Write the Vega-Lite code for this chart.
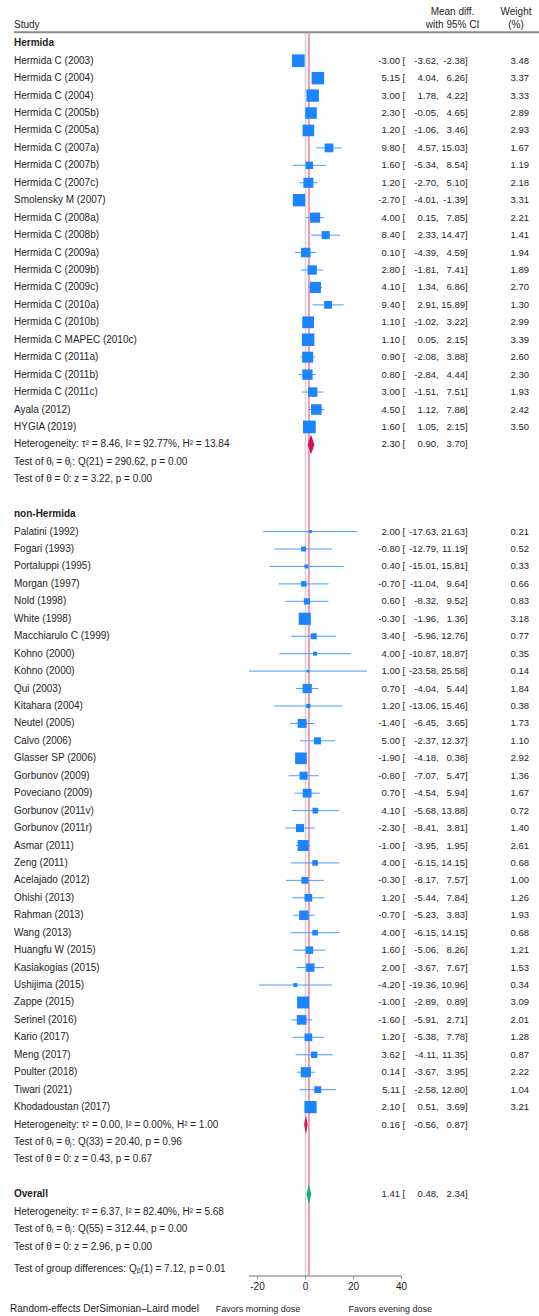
{
  "$schema": "https://vega.github.io/schema/vega-lite/v6.json",
  "width": 539,
  "height": 1316,
  "padding": 0,
  "autosize": {"type": "none"},
  "background": "white",
  "config": {
    "view": {"stroke": null},
    "font": "Liberation Sans",
    "text": {"font": "Liberation Sans", "fontSize": 10, "color": "#1e1e1e", "baseline": "middle"},
    "locale": {"number": {"decimal": ".", "thousands": ",", "grouping": [3], "currency": ["$", ""], "minus": "-"}}
  },
  "datasets": {
    "rows": [
      {"type": "study", "study": "Hermida C (2003)", "row": 1, "est": -3.00, "lo": -3.62, "hi": -2.38, "weight": 3.48},
      {"type": "study", "study": "Hermida C (2004)", "row": 2, "est": 5.15, "lo": 4.04, "hi": 6.26, "weight": 3.37},
      {"type": "study", "study": "Hermida C (2004)", "row": 3, "est": 3.00, "lo": 1.78, "hi": 4.22, "weight": 3.33},
      {"type": "study", "study": "Hermida C (2005b)", "row": 4, "est": 2.30, "lo": -0.05, "hi": 4.65, "weight": 2.89},
      {"type": "study", "study": "Hermida C (2005a)", "row": 5, "est": 1.20, "lo": -1.06, "hi": 3.46, "weight": 2.93},
      {"type": "study", "study": "Hermida C (2007a)", "row": 6, "est": 9.80, "lo": 4.57, "hi": 15.03, "weight": 1.67},
      {"type": "study", "study": "Hermida C (2007b)", "row": 7, "est": 1.60, "lo": -5.34, "hi": 8.54, "weight": 1.19},
      {"type": "study", "study": "Hermida C (2007c)", "row": 8, "est": 1.20, "lo": -2.70, "hi": 5.10, "weight": 2.18},
      {"type": "study", "study": "Smolensky M (2007)", "row": 9, "est": -2.70, "lo": -4.01, "hi": -1.39, "weight": 3.31},
      {"type": "study", "study": "Hermida C (2008a)", "row": 10, "est": 4.00, "lo": 0.15, "hi": 7.85, "weight": 2.21},
      {"type": "study", "study": "Hermida C (2008b)", "row": 11, "est": 8.40, "lo": 2.33, "hi": 14.47, "weight": 1.41},
      {"type": "study", "study": "Hermida C (2009a)", "row": 12, "est": 0.10, "lo": -4.39, "hi": 4.59, "weight": 1.94},
      {"type": "study", "study": "Hermida C (2009b)", "row": 13, "est": 2.80, "lo": -1.81, "hi": 7.41, "weight": 1.89},
      {"type": "study", "study": "Hermida C (2009c)", "row": 14, "est": 4.10, "lo": 1.34, "hi": 6.86, "weight": 2.70},
      {"type": "study", "study": "Hermida C (2010a)", "row": 15, "est": 9.40, "lo": 2.91, "hi": 15.89, "weight": 1.30},
      {"type": "study", "study": "Hermida C (2010b)", "row": 16, "est": 1.10, "lo": -1.02, "hi": 3.22, "weight": 2.99},
      {"type": "study", "study": "Hermida C MAPEC (2010c)", "row": 17, "est": 1.10, "lo": 0.05, "hi": 2.15, "weight": 3.39},
      {"type": "study", "study": "Hermida C (2011a)", "row": 18, "est": 0.90, "lo": -2.08, "hi": 3.88, "weight": 2.60},
      {"type": "study", "study": "Hermida C (2011b)", "row": 19, "est": 0.80, "lo": -2.84, "hi": 4.44, "weight": 2.30},
      {"type": "study", "study": "Hermida C (2011c)", "row": 20, "est": 3.00, "lo": -1.51, "hi": 7.51, "weight": 1.93},
      {"type": "study", "study": "Ayala (2012)", "row": 21, "est": 4.50, "lo": 1.12, "hi": 7.88, "weight": 2.42},
      {"type": "study", "study": "HYGIA (2019)", "row": 22, "est": 1.60, "lo": 1.05, "hi": 2.15, "weight": 3.50},
      {"type": "summary", "group": "Hermida", "row": 23, "est": 2.30, "lo": 0.90, "hi": 3.70},
      {"type": "study", "study": "Palatini (1992)", "row": 28, "est": 2.00, "lo": -17.63, "hi": 21.63, "weight": 0.21},
      {"type": "study", "study": "Fogari (1993)", "row": 29, "est": -0.80, "lo": -12.79, "hi": 11.19, "weight": 0.52},
      {"type": "study", "study": "Portaluppi (1995)", "row": 30, "est": 0.40, "lo": -15.01, "hi": 15.81, "weight": 0.33},
      {"type": "study", "study": "Morgan (1997)", "row": 31, "est": -0.70, "lo": -11.04, "hi": 9.64, "weight": 0.66},
      {"type": "study", "study": "Nold (1998)", "row": 32, "est": 0.60, "lo": -8.32, "hi": 9.52, "weight": 0.83},
      {"type": "study", "study": "White (1998)", "row": 33, "est": -0.30, "lo": -1.96, "hi": 1.36, "weight": 3.18},
      {"type": "study", "study": "Macchiarulo C (1999)", "row": 34, "est": 3.40, "lo": -5.96, "hi": 12.76, "weight": 0.77},
      {"type": "study", "study": "Kohno (2000)", "row": 35, "est": 4.00, "lo": -10.87, "hi": 18.87, "weight": 0.35},
      {"type": "study", "study": "Kohno (2000)", "row": 36, "est": 1.00, "lo": -23.58, "hi": 25.58, "weight": 0.14},
      {"type": "study", "study": "Qui (2003)", "row": 37, "est": 0.70, "lo": -4.04, "hi": 5.44, "weight": 1.84},
      {"type": "study", "study": "Kitahara (2004)", "row": 38, "est": 1.20, "lo": -13.06, "hi": 15.46, "weight": 0.38},
      {"type": "study", "study": "Neutel (2005)", "row": 39, "est": -1.40, "lo": -6.45, "hi": 3.65, "weight": 1.73},
      {"type": "study", "study": "Calvo (2006)", "row": 40, "est": 5.00, "lo": -2.37, "hi": 12.37, "weight": 1.10},
      {"type": "study", "study": "Glasser SP (2006)", "row": 41, "est": -1.90, "lo": -4.18, "hi": 0.38, "weight": 2.92},
      {"type": "study", "study": "Gorbunov (2009)", "row": 42, "est": -0.80, "lo": -7.07, "hi": 5.47, "weight": 1.36},
      {"type": "study", "study": "Poveciano (2009)", "row": 43, "est": 0.70, "lo": -4.54, "hi": 5.94, "weight": 1.67},
      {"type": "study", "study": "Gorbunov (2011v)", "row": 44, "est": 4.10, "lo": -5.68, "hi": 13.88, "weight": 0.72},
      {"type": "study", "study": "Gorbunov (2011r)", "row": 45, "est": -2.30, "lo": -8.41, "hi": 3.81, "weight": 1.40},
      {"type": "study", "study": "Asmar (2011)", "row": 46, "est": -1.00, "lo": -3.95, "hi": 1.95, "weight": 2.61},
      {"type": "study", "study": "Zeng (2011)", "row": 47, "est": 4.00, "lo": -6.15, "hi": 14.15, "weight": 0.68},
      {"type": "study", "study": "Acelajado (2012)", "row": 48, "est": -0.30, "lo": -8.17, "hi": 7.57, "weight": 1.00},
      {"type": "study", "study": "Ohishi (2013)", "row": 49, "est": 1.20, "lo": -5.44, "hi": 7.84, "weight": 1.26},
      {"type": "study", "study": "Rahman (2013)", "row": 50, "est": -0.70, "lo": -5.23, "hi": 3.83, "weight": 1.93},
      {"type": "study", "study": "Wang (2013)", "row": 51, "est": 4.00, "lo": -6.15, "hi": 14.15, "weight": 0.68},
      {"type": "study", "study": "Huangfu W (2015)", "row": 52, "est": 1.60, "lo": -5.06, "hi": 8.26, "weight": 1.21},
      {"type": "study", "study": "Kasiakogias (2015)", "row": 53, "est": 2.00, "lo": -3.67, "hi": 7.67, "weight": 1.53},
      {"type": "study", "study": "Ushijima (2015)", "row": 54, "est": -4.20, "lo": -19.36, "hi": 10.96, "weight": 0.34},
      {"type": "study", "study": "Zappe (2015)", "row": 55, "est": -1.00, "lo": -2.89, "hi": 0.89, "weight": 3.09},
      {"type": "study", "study": "Serinel (2016)", "row": 56, "est": -1.60, "lo": -5.91, "hi": 2.71, "weight": 2.01},
      {"type": "study", "study": "Kario (2017)", "row": 57, "est": 1.20, "lo": -5.38, "hi": 7.78, "weight": 1.28},
      {"type": "study", "study": "Meng (2017)", "row": 58, "est": 3.62, "lo": -4.11, "hi": 11.35, "weight": 0.87},
      {"type": "study", "study": "Poulter (2018)", "row": 59, "est": 0.14, "lo": -3.67, "hi": 3.95, "weight": 2.22},
      {"type": "study", "study": "Tiwari (2021)", "row": 60, "est": 5.11, "lo": -2.58, "hi": 12.80, "weight": 1.04},
      {"type": "study", "study": "Khodadoustan (2017)", "row": 61, "est": 2.10, "lo": 0.51, "hi": 3.69, "weight": 3.21},
      {"type": "summary", "group": "non-Hermida", "row": 62, "est": 0.16, "lo": -0.56, "hi": 0.87},
      {"type": "summary", "group": "Overall", "row": 66, "est": 1.41, "lo": 0.48, "hi": 2.34}
    ],
    "labels": [
      {"row": 0, "text": "Hermida", "kind": "group"},
      {"row": 23, "text": "Heterogeneity: τ² = 8.46, I² = 92.77%, H² = 13.84", "kind": "stat"},
      {"row": 24, "text": "Test of θᵢ = θⱼ: Q(21) = 290.62, p = 0.00", "kind": "stat"},
      {"row": 25, "text": "Test of θ = 0: z = 3.22, p = 0.00", "kind": "stat"},
      {"row": 27, "text": "non-Hermida", "kind": "group"},
      {"row": 62, "text": "Heterogeneity: τ² = 0.00, I² = 0.00%, H² = 1.00", "kind": "stat"},
      {"row": 63, "text": "Test of θᵢ = θⱼ: Q(33) = 20.40, p = 0.96", "kind": "stat"},
      {"row": 64, "text": "Test of θ = 0: z = 0.43, p = 0.67", "kind": "stat"},
      {"row": 66, "text": "Overall", "kind": "group"},
      {"row": 67, "text": "Heterogeneity: τ² = 6.37, I² = 82.40%, H² = 5.68", "kind": "stat"},
      {"row": 68, "text": "Test of θᵢ = θⱼ: Q(55) = 312.44, p = 0.00", "kind": "stat"},
      {"row": 69, "text": "Test of θ = 0: z = 2.96, p = 0.00", "kind": "stat"},
      {"row": 70.3, "text": "Test of group differences: Qᵦ(1) = 7.12, p = 0.01", "kind": "stat"}
    ],
    "ticks": [{"v": -20}, {"v": 0}, {"v": 20}, {"v": 40}]
  },
  "layer": [
    {
      "data": {"values": [{}]},
      "mark": {"type": "rule", "color": "#d2d2d2", "strokeWidth": 1.5},
      "encoding": {
        "x": {"datum": 0, "type": "quantitative", "scale": {"domain": [-127.29, 97.29], "nice": false, "zero": false}, "axis": null},
        "y": {"datum": -0.59, "type": "quantitative", "scale": {"domain": [-2.4805, 72.978], "nice": false, "zero": false, "reverse": true}, "axis": null},
        "y2": {"datum": 70.69}
      }
    },
    {
      "data": {"name": "rows"},
      "transform": [{"filter": "datum.group === 'Overall'"}],
      "mark": {"type": "rule", "color": "#ee98ad", "strokeWidth": 2},
      "encoding": {
        "x": {"field": "est", "type": "quantitative", "axis": null},
        "y": {"datum": -0.59, "type": "quantitative", "axis": null},
        "y2": {"datum": 70.69}
      }
    },
    {
      "data": {"values": [{}]},
      "mark": {"type": "rule", "color": "#8a8a8a", "strokeWidth": 2},
      "encoding": {
        "x": {"datum": -121.46, "type": "quantitative", "axis": null},
        "x2": {"datum": 97.29},
        "y": {"datum": -0.63, "type": "quantitative", "axis": null}
      }
    },
    {
      "data": {"values": [{}]},
      "mark": {"type": "rule", "color": "#a0a0a0", "strokeWidth": 1.5},
      "encoding": {
        "x": {"datum": -23.58, "type": "quantitative", "axis": null},
        "x2": {"datum": 40},
        "y": {"datum": 70.685, "type": "quantitative", "axis": null}
      }
    },
    {
      "data": {"name": "ticks"},
      "mark": {"type": "rule", "color": "#8c8c8c", "strokeWidth": 1},
      "encoding": {
        "x": {"field": "v", "type": "quantitative", "axis": null},
        "y": {"datum": 70.685, "type": "quantitative", "axis": null},
        "y2": {"datum": 70.86}
      }
    },
    {
      "data": {"name": "ticks"},
      "mark": {"type": "text", "align": "center"},
      "encoding": {
        "x": {"field": "v", "type": "quantitative", "axis": null},
        "y": {"datum": 71.3, "type": "quantitative", "axis": null},
        "text": {"field": "v", "type": "quantitative", "format": "d"}
      }
    },
    {
      "data": {"name": "rows"},
      "transform": [{"filter": "datum.type === 'study'"}],
      "mark": {"type": "rule", "color": "#4b9bff", "strokeWidth": 1},
      "encoding": {
        "x": {"field": "lo", "type": "quantitative", "axis": null},
        "x2": {"field": "hi"},
        "y": {"field": "row", "type": "quantitative", "axis": null}
      }
    },
    {
      "data": {"name": "rows"},
      "transform": [{"filter": "datum.type === 'study'"}],
      "mark": {"type": "point", "shape": "square", "filled": true, "opacity": 1, "color": "#1a85ff", "strokeWidth": 0},
      "encoding": {
        "x": {"field": "est", "type": "quantitative", "axis": null},
        "y": {"field": "row", "type": "quantitative", "axis": null},
        "size": {"field": "weight", "type": "quantitative", "scale": {"type": "linear", "domain": [0, 3.5], "range": [0, 162], "zero": true}, "legend": null}
      }
    },
    {
      "data": {"name": "rows"},
      "transform": [{"filter": "datum.type === 'summary'"}],
      "mark": {"type": "point", "filled": true, "opacity": 1, "strokeWidth": 0, "size": 400},
      "encoding": {
        "x": {"field": "est", "type": "quantitative", "axis": null},
        "y": {"field": "row", "type": "quantitative", "axis": null},
        "shape": {"field": "group", "type": "nominal", "scale": {"domain": ["Hermida", "non-Hermida", "Overall"], "range": ["M0,-1L0.336,0L0,1L-0.336,0Z", "M0,-1L0.172,0L0,1L-0.172,0Z", "M0,-1L0.223,0L0,1L-0.223,0Z"]}, "legend": null},
        "color": {"field": "group", "type": "nominal", "scale": {"domain": ["Hermida", "non-Hermida", "Overall"], "range": ["#d41159", "#d41159", "#12ad6c"]}, "legend": null}
      }
    },
    {
      "data": {"name": "rows"},
      "transform": [{"filter": "datum.type === 'study'"}],
      "mark": {"type": "text", "align": "left"},
      "encoding": {
        "x": {"datum": -121.46, "type": "quantitative", "axis": null},
        "y": {"field": "row", "type": "quantitative", "axis": null},
        "text": {"field": "study"}
      }
    },
    {
      "data": {"name": "labels"},
      "transform": [{"filter": "datum.kind === 'stat'"}],
      "mark": {"type": "text", "align": "left"},
      "encoding": {
        "x": {"datum": -121.46, "type": "quantitative", "axis": null},
        "y": {"field": "row", "type": "quantitative", "axis": null},
        "text": {"field": "text"}
      }
    },
    {
      "data": {"name": "labels"},
      "transform": [{"filter": "datum.kind === 'group'"}],
      "mark": {"type": "text", "align": "left", "fontWeight": "bold"},
      "encoding": {
        "x": {"datum": -121.46, "type": "quantitative", "axis": null},
        "y": {"field": "row", "type": "quantitative", "axis": null},
        "text": {"field": "text"}
      }
    },
    {
      "data": {"name": "rows"},
      "mark": {"type": "text", "align": "right", "fontSize": 9.5},
      "encoding": {
        "x": {"datum": 39.375, "type": "quantitative", "axis": null},
        "y": {"field": "row", "type": "quantitative", "axis": null},
        "text": {"field": "est", "type": "quantitative", "format": ".2f"}
      }
    },
    {
      "data": {"name": "rows"},
      "mark": {"type": "text", "align": "left", "fontSize": 9.5},
      "encoding": {
        "x": {"datum": 40.42, "type": "quantitative", "axis": null},
        "y": {"field": "row", "type": "quantitative", "axis": null},
        "text": {"value": "["}
      }
    },
    {
      "data": {"name": "rows"},
      "mark": {"type": "text", "align": "right", "fontSize": 9.5},
      "encoding": {
        "x": {"datum": 54.38, "type": "quantitative", "axis": null},
        "y": {"field": "row", "type": "quantitative", "axis": null},
        "text": {"field": "lo", "type": "quantitative", "format": ".2f"}
      }
    },
    {
      "data": {"name": "rows"},
      "mark": {"type": "text", "align": "left", "fontSize": 9.5},
      "encoding": {
        "x": {"datum": 54.38, "type": "quantitative", "axis": null},
        "y": {"field": "row", "type": "quantitative", "axis": null},
        "text": {"value": ","}
      }
    },
    {
      "data": {"name": "rows"},
      "mark": {"type": "text", "align": "right", "fontSize": 9.5},
      "encoding": {
        "x": {"datum": 66.46, "type": "quantitative", "axis": null},
        "y": {"field": "row", "type": "quantitative", "axis": null},
        "text": {"field": "hi", "type": "quantitative", "format": ".2f"}
      }
    },
    {
      "data": {"name": "rows"},
      "mark": {"type": "text", "align": "left", "fontSize": 9.5},
      "encoding": {
        "x": {"datum": 66.46, "type": "quantitative", "axis": null},
        "y": {"field": "row", "type": "quantitative", "axis": null},
        "text": {"value": "]"}
      }
    },
    {
      "data": {"name": "rows"},
      "transform": [{"filter": "datum.type === 'study'"}],
      "mark": {"type": "text", "align": "right", "fontSize": 9.5},
      "encoding": {
        "x": {"datum": 93.13, "type": "quantitative", "axis": null},
        "y": {"field": "row", "type": "quantitative", "axis": null},
        "text": {"field": "weight", "type": "quantitative", "format": ".2f"}
      }
    },
    {
      "data": {"values": [{}]},
      "mark": {"type": "text", "align": "left"},
      "encoding": {
        "x": {"datum": -121.46, "type": "quantitative", "axis": null},
        "y": {"datum": -1.05, "type": "quantitative", "axis": null},
        "text": {"value": "Study"}
      }
    },
    {
      "data": {"values": [{}]},
      "mark": {"type": "text", "align": "center"},
      "encoding": {
        "x": {"datum": 61.25, "type": "quantitative", "axis": null},
        "y": {"datum": -1.79, "type": "quantitative", "axis": null},
        "text": {"value": "Mean diff."}
      }
    },
    {
      "data": {"values": [{}]},
      "mark": {"type": "text", "align": "center"},
      "encoding": {
        "x": {"datum": 61.25, "type": "quantitative", "axis": null},
        "y": {"datum": -1.05, "type": "quantitative", "axis": null},
        "text": {"value": "with 95% CI"}
      }
    },
    {
      "data": {"values": [{}]},
      "mark": {"type": "text", "align": "center"},
      "encoding": {
        "x": {"datum": 87.71, "type": "quantitative", "axis": null},
        "y": {"datum": -1.79, "type": "quantitative", "axis": null},
        "text": {"value": "Weight"}
      }
    },
    {
      "data": {"values": [{}]},
      "mark": {"type": "text", "align": "center"},
      "encoding": {
        "x": {"datum": 87.71, "type": "quantitative", "axis": null},
        "y": {"datum": -1.05, "type": "quantitative", "axis": null},
        "text": {"value": "(%)"}
      }
    },
    {
      "data": {"values": [{}]},
      "mark": {"type": "text", "align": "left"},
      "encoding": {
        "x": {"datum": -123.1, "type": "quantitative", "axis": null},
        "y": {"datum": 72.6, "type": "quantitative", "axis": null},
        "text": {"value": "Random-effects DerSimonian–Laird model"}
      }
    },
    {
      "data": {"values": [{}]},
      "mark": {"type": "text", "align": "center", "fontSize": 9},
      "encoding": {
        "x": {"datum": -19.8, "type": "quantitative", "axis": null},
        "y": {"datum": 72.6, "type": "quantitative", "axis": null},
        "text": {"value": "Favors morning dose"}
      }
    },
    {
      "data": {"values": [{}]},
      "mark": {"type": "text", "align": "center", "fontSize": 9},
      "encoding": {
        "x": {"datum": 35.3, "type": "quantitative", "axis": null},
        "y": {"datum": 72.6, "type": "quantitative", "axis": null},
        "text": {"value": "Favors evening dose"}
      }
    }
  ]
}
